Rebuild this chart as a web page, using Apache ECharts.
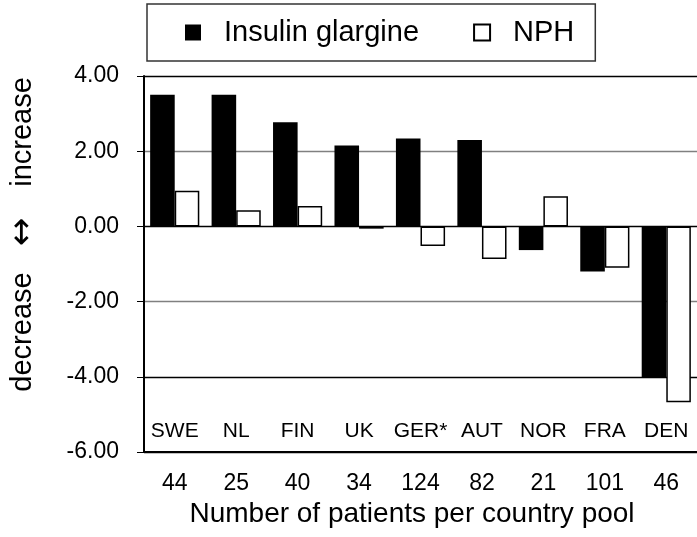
<!DOCTYPE html>
<html>
<head>
<meta charset="utf-8">
<script src="https://cdn.jsdelivr.net/npm/echarts@6/dist/echarts.min.js"></script>
<style>
  html, body { margin: 0; padding: 0; background: #fff; }
  #chart { width: 697px; height: 537px; }
</style>
</head>
<body>
<div id="chart"></div>
<script>
const countries = ["SWE", "NL", "FIN", "UK", "GER*", "AUT", "NOR", "FRA", "DEN"];
const patients = ["44", "25", "40", "34", "124", "82", "21", "101", "46"];
const glargine = [3.50, 3.50, 2.77, 2.15, 2.34, 2.30, -0.63, -1.20, -4.02];
const nph = [0.95, 0.43, 0.54, -0.06, -0.52, -0.87, 0.80, -1.10, -4.68];

const font = "'Liberation Sans', Arial, sans-serif";

const chart = echarts.init(document.getElementById("chart"), null, {
  width: 697,
  height: 537,
});

const option = {
  backgroundColor: "#fff",
  animation: false,
  textStyle: { fontFamily: font, color: "#000" },
  legend: {
    left: 147,
    top: 4,
    padding: [14, 21, 14, 38],
    borderColor: "#333",
    borderWidth: 1.5,
    icon: "rect",
    itemWidth: 16,
    itemHeight: 16,
    itemGap: 54,
    textStyle: {
      fontSize: 29,
      fontFamily: font,
      color: "#000",
      padding: [0, 0, 0, 18],
    },
    data: ["Insulin glargine", "NPH"],
  },
  grid: {
    left: 144,
    top: 76,
    width: 554,
    height: 376,
  },
  xAxis: [
    {
      type: "category",
      data: countries,
      position: "bottom",
      axisLine: { onZero: false, lineStyle: { color: "#000", width: 2 } },
      axisTick: { show: false },
      axisLabel: {
        inside: true,
        interval: 0,
        hideOverlap: false,
        margin: 10,
        fontSize: 21,
        color: "#000",
        fontFamily: font,
      },
    },
    {
      type: "category",
      data: patients,
      position: "bottom",
      axisLine: { show: false },
      axisTick: { show: false },
      axisLabel: {
        interval: 0,
        margin: 20,
        fontSize: 23,
        color: "#000",
        fontFamily: font,
      },
      name: "Number of patients per country pool",
      nameLocation: "middle",
      nameGap: 44,
      nameTextStyle: {
        fontSize: 28,
        fontFamily: font,
        color: "#000",
        padding: [0, 17, 0, 0],
      },
    },
  ],
  yAxis: {
    type: "value",
    min: -6,
    max: 4,
    interval: 2,
    axisLine: { show: true, lineStyle: { color: "#000", width: 2 } },
    axisTick: { show: true, length: 7, lineStyle: { color: "#000" } },
    axisLabel: {
      margin: 25,
      fontSize: 23,
      color: "#000",
      fontFamily: font,
      formatter: (v) => v.toFixed(2),
    },
    splitLine: {
      show: true,
      lineStyle: {
        color: ["#000", "#000", "#808080", "#000", "#808080", "#000"],
        width: 1.3,
      },
    },
  },
  graphic: [
    {
      type: "text",
      x: 23,
      y: 132,
      rotation: Math.PI / 2,
      style: {
        text: "increase",
        font: "29px " + font,
        fill: "#000",
        align: "center",
        verticalAlign: "middle",
      },
    },
    {
      type: "text",
      x: 23,
      y: 232,
      rotation: Math.PI / 2,
      style: {
        text: "\u2194",
        font: "34px 'DejaVu Sans', sans-serif",
        fill: "#000",
        align: "center",
        verticalAlign: "middle",
      },
    },
    {
      type: "text",
      x: 23,
      y: 332,
      rotation: Math.PI / 2,
      style: {
        text: "decrease",
        font: "29px " + font,
        fill: "#000",
        align: "center",
        verticalAlign: "middle",
      },
    },
  ],
  series: [
    {
      name: "Insulin glargine",
      type: "bar",
      data: glargine,
      barGap: "0%",
      barCategoryGap: "20%",
      itemStyle: { color: "#000" },
    },
    {
      name: "NPH",
      type: "bar",
      data: nph,
      barGap: "0%",
      barCategoryGap: "20%",
      itemStyle: { color: "#fff", borderColor: "#000", borderWidth: 1.5 },
    },
  ],
};

chart.setOption(option);
</script>
</body>
</html>
